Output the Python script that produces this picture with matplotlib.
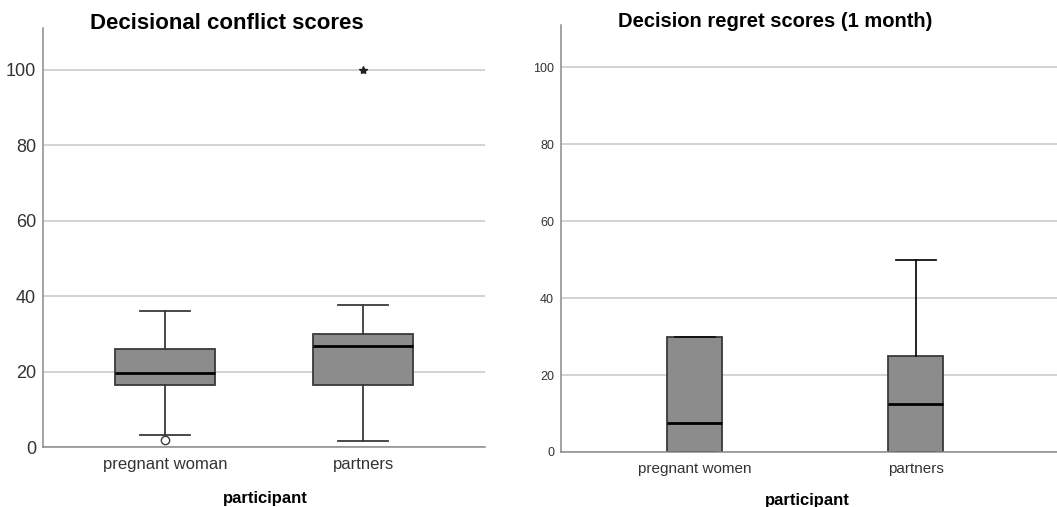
import matplotlib.pyplot as plt

plt.rcParams['font.family'] = ['Liberation Sans', 'DejaVu Sans']

# left panel: decisional conflict
dc_groups = ["pregnant woman", "partners"]
dc_whislo = [3.2, 1.6]
dc_q1 = [16.4, 16.4]
dc_med = [19.6, 26.8]
dc_q3 = [26.0, 30.0]
dc_whishi = [36.0, 37.6]
dc_outliers = [[1.8], []]
dc_extremes = [[], [100.0]]

# right panel: decision regret (1 month)
dr_groups = ["pregnant women", "partners"]
dr_whislo = [0.0, 0.0]
dr_q1 = [0.0, 0.0]
dr_med = [7.5, 12.5]
dr_q3 = [30.0, 25.0]
dr_whishi = [30.0, 50.0]

yticks = [0, 20, 40, 60, 80, 100]

box_face = "#8c8c8c"
edge = "#3a3a3a"


def make_stats(lo, q1, med, q3, hi, fl=None):
    stats = []
    for i in range(len(med)):
        stats.append(dict(whislo=lo[i], q1=q1[i], med=med[i], q3=q3[i], whishi=hi[i],
                          fliers=fl[i] if fl else []))
    return stats


def style_axis(ax, tick_size, label_size):
    ax.set_ylim(0, 111)
    ax.set_yticks(yticks)
    ax.grid(axis="y", color="#c8c8c8", linewidth=1.1)
    ax.set_axisbelow(True)
    for s in ["top", "right"]:
        ax.spines[s].set_visible(False)
    for s in ["left", "bottom"]:
        ax.spines[s].set_color("#8a8a8a")
        ax.spines[s].set_linewidth(1.1)
    ax.tick_params(length=0, labelsize=tick_size, colors="#333333", pad=5)
    ax.tick_params(axis="x", labelsize=label_size, pad=7)


fig = plt.figure(figsize=(10.57, 5.07), dpi=100)

ax1 = fig.add_axes([0.0407, 0.1183, 0.4182, 0.826])
b1 = ax1.bxp(make_stats(dc_whislo, dc_q1, dc_med, dc_q3, dc_whishi, dc_outliers),
             positions=[1, 2], widths=0.505, patch_artist=True,
             boxprops=dict(facecolor=box_face, edgecolor=edge, linewidth=1.3),
             whiskerprops=dict(color=edge, linewidth=1.3),
             capprops=dict(color=edge, linewidth=1.3),
             medianprops=dict(color="black", linewidth=2),
             flierprops=dict(marker="o", markerfacecolor="white", markeredgecolor=edge,
                             markersize=6))
for c in b1["caps"]:
    x0, x1 = c.get_xdata()
    mid = (x0 + x1) / 2
    c.set_xdata([mid - 0.125, mid + 0.125])
for i, ext in enumerate(dc_extremes):
    if ext:
        ax1.plot([i + 1] * len(ext), ext, marker="*", color="#222222", linestyle="none",
                 markersize=6)
ax1.set_xlim(0.384, 2.616)
ax1.set_xticks([1, 2])
ax1.set_xticklabels(dc_groups)
style_axis(ax1, 13, 12)

ax2 = fig.add_axes([0.5307, 0.1085, 0.4693, 0.842])
b2 = ax2.bxp(make_stats(dr_whislo, dr_q1, dr_med, dr_q3, dr_whishi),
             positions=[1, 2], widths=0.25, patch_artist=True,
             boxprops=dict(facecolor=box_face, edgecolor=edge, linewidth=1.3),
             whiskerprops=dict(color="#111111", linewidth=1.3),
             capprops=dict(color="#111111", linewidth=1.3),
             medianprops=dict(color="black", linewidth=2))
for c in b2["caps"]:
    x0, x1 = c.get_xdata()
    mid = (x0 + x1) / 2
    c.set_xdata([mid - 0.09, mid + 0.09])
ax2.set_xlim(0.394, 2.64)
ax2.set_xticks([1, 2])
ax2.set_xticklabels(dr_groups)
style_axis(ax2, 9, 11)

# titles and axis labels placed in figure coords
fig.text(227 / 1057, 1 - 29 / 507, "Decisional conflict scores", fontsize=16,
         fontweight="bold", ha="center", va="baseline")
fig.text(775 / 1057, 1 - 27 / 507, "Decision regret scores (1 month)", fontsize=14.5,
         fontweight="bold", ha="center", va="baseline")
fig.text(265 / 1057, 1 - 498 / 507, "participant", fontsize=12, fontweight="bold",
         ha="center", va="center")
fig.text(807 / 1057, 1 - 500 / 507, "participant", fontsize=12, fontweight="bold",
         ha="center", va="center")

fig.savefig("out.png", dpi=100)
